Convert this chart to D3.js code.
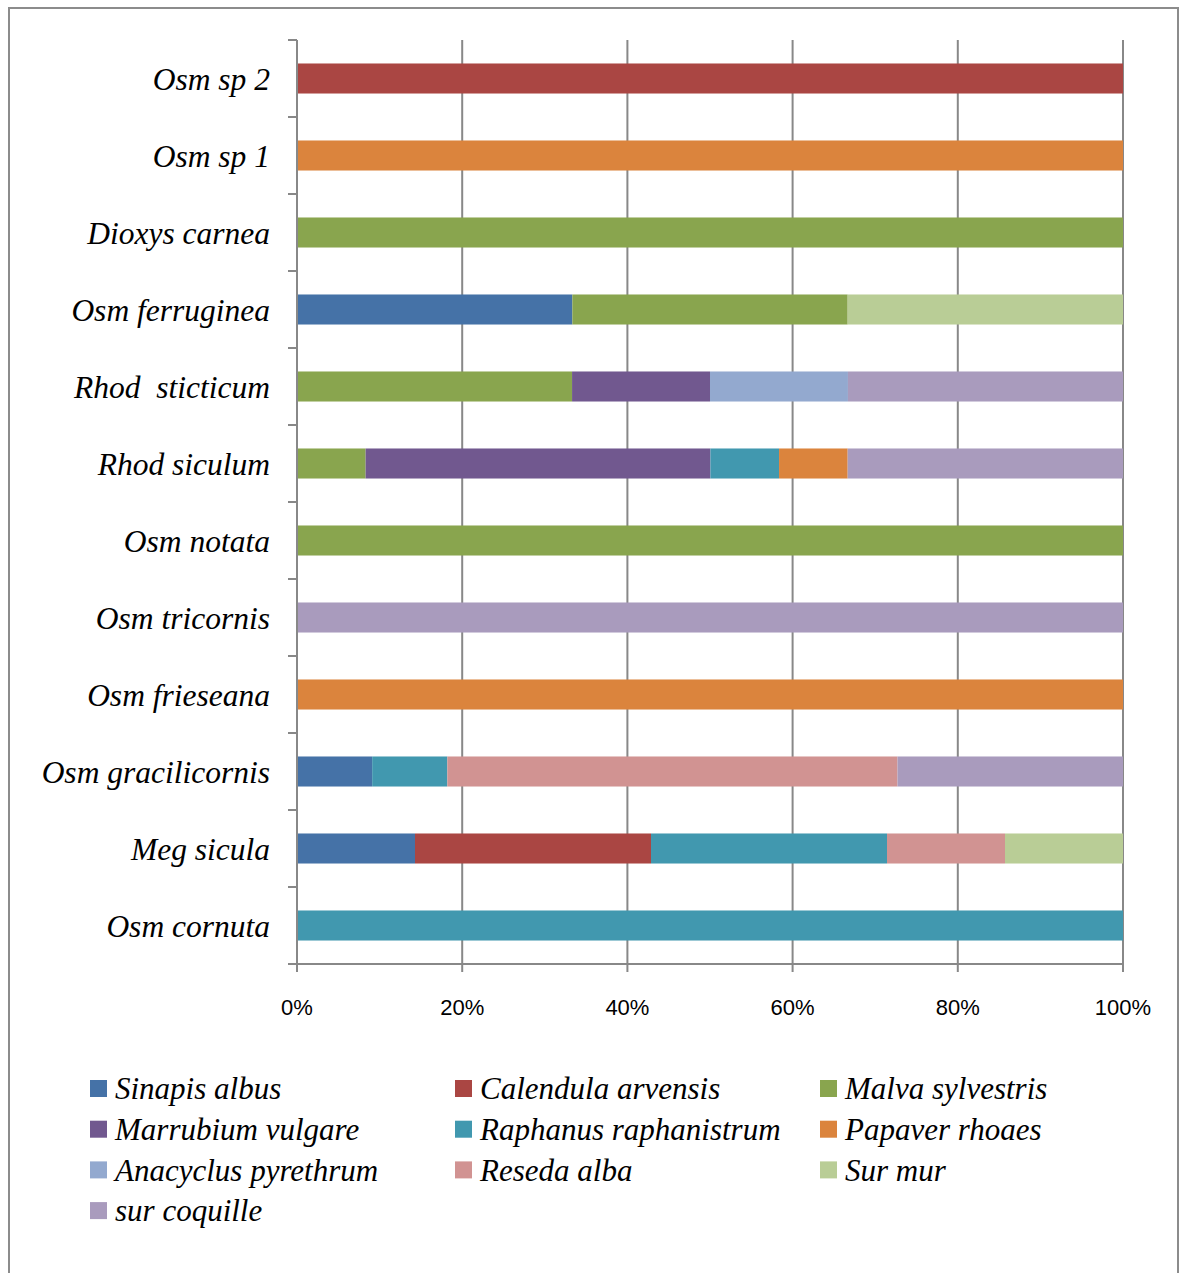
<!DOCTYPE html>
<html><head><meta charset="utf-8">
<script src="https://cdn.jsdelivr.net/npm/d3@7"></script>
<style>body{margin:0;background:#fff}</style>
</head><body>
<svg id="c" width="1184" height="1273"></svg>
<script>
const categories = ["Osm sp 2","Osm sp 1","Dioxys carnea","Osm ferruginea","Rhod  sticticum","Rhod siculum","Osm notata","Osm tricornis","Osm frieseana","Osm gracilicornis","Meg sicula","Osm cornuta"];
const seriesNames = ["Sinapis albus","Calendula arvensis","Malva sylvestris","Marrubium vulgare","Raphanus raphanistrum","Papaver rhoaes","Anacyclus pyrethrum","Reseda alba","Sur mur","sur coquille"];
const seriesColors = ["#4572A7","#AA4643","#89A54E","#71588F","#4198AF","#DB843D","#93A9CF","#D19392","#B9CD96","#A99BBD"];
// percentages per category, in series order
const sinapis    = [0,0,0,33.3,0,0,0,0,0,9.1,14.3,0];
const calendula  = [100,0,0,0,0,0,0,0,0,0,28.6,0];
const malva      = [0,0,100,33.3,33.3,8.3,100,0,0,0,0,0];
const marrubium  = [0,0,0,0,16.7,41.7,0,0,0,0,0,0];
const raphanus   = [0,0,0,0,0,8.3,0,0,0,9.1,28.6,100];
const papaver    = [0,100,0,0,0,8.3,0,0,100,0,0,0];
const anacyclus  = [0,0,0,0,16.7,0,0,0,0,0,0,0];
const reseda     = [0,0,0,0,0,0,0,0,0,54.5,14.3,0];
const surMur     = [0,0,0,33.3,0,0,0,0,0,0,14.3,0];
const surCoquille= [0,0,0,0,33.3,33.3,0,100,0,27.3,0,0];
const xTicks = [0,0.2,0.4,0.6,0.8,1];

const seriesValues = [sinapis,calendula,malva,marrubium,raphanus,papaver,anacyclus,reseda,surMur,surCoquille];
const rows = categories.map((c,i)=>{const r={cat:c}; seriesNames.forEach((s,j)=>r[s]=seriesValues[j][i]); return r;});
const stack = d3.stack().keys(seriesNames).offset(d3.stackOffsetExpand)(rows);

const svg = d3.select("#c");
// frame
svg.append("rect").attr("x",9).attr("y",8).attr("width",1169).attr("height",1280)
  .attr("fill","none").attr("stroke","#8c8c8c").attr("stroke-width",2);

const x = d3.scaleLinear().domain([0,1]).range([297,1123]);
const y = d3.scaleBand().domain(categories).range([40,964]).paddingInner(0.61).paddingOuter(0.305);
const step = y.step();

// gridlines
svg.append("g").selectAll("line").data(xTicks.slice(1)).join("line")
  .attr("x1",d=>x(d)).attr("x2",d=>x(d)).attr("y1",40).attr("y2",964)
  .attr("stroke","#888").attr("stroke-width",2);

// bars
svg.append("g").selectAll("g").data(stack).join("g")
  .attr("fill",(d,i)=>seriesColors[i])
  .selectAll("rect").data(d=>d.filter(e=>e[1]-e[0]>0)).join("rect")
  .attr("x",d=>x(d[0])).attr("width",d=>x(d[1])-x(d[0]))
  .attr("y",d=>y(d.data.cat)).attr("height",y.bandwidth());

// y axis line + ticks at band boundaries
const ya = svg.append("g");
ya.append("line").attr("x1",297).attr("x2",297).attr("y1",40).attr("y2",964).attr("stroke","#888").attr("stroke-width",2);
const bounds = d3.range(categories.length+1).map(i=>40+i*step);
ya.selectAll("line.t").data(bounds).join("line").attr("class","t")
  .attr("x1",288).attr("x2",297).attr("y1",d=>d).attr("y2",d=>d).attr("stroke","#888").attr("stroke-width",2);
ya.selectAll("text").data(categories).join("text")
  .attr("x",270).attr("y",d=>y(d)+y.bandwidth()/2).attr("dy","0.36em")
  .attr("text-anchor","end").attr("font-family","Liberation Serif, serif").attr("font-style","italic")
  .attr("font-size",31.5).attr("fill","#000").style("white-space","pre").text(d=>d);

// x axis
const xa = svg.append("g");
xa.append("line").attr("x1",288).attr("x2",1123).attr("y1",964).attr("y2",964).attr("stroke","#888").attr("stroke-width",2);
xa.selectAll("line.t").data(xTicks).join("line").attr("class","t")
  .attr("x1",d=>x(d)).attr("x2",d=>x(d)).attr("y1",964).attr("y2",972).attr("stroke","#888").attr("stroke-width",2);
xa.selectAll("text").data(xTicks).join("text")
  .attr("x",d=>x(d)).attr("y",1007).attr("dy","0.35em").attr("text-anchor","middle")
  .attr("font-family","Liberation Sans, Arial, sans-serif").attr("font-size",22).attr("fill","#000")
  .text(d3.format(".0%"));

// legend
const lg = svg.append("g");
seriesNames.forEach((s,i)=>{
  const col=i%3,row=Math.floor(i/3);
  const lx=90+col*365, ly=1088+row*40.7;
  lg.append("rect").attr("x",lx).attr("y",ly-8).attr("width",17).attr("height",17).attr("fill",seriesColors[i]);
  lg.append("text").attr("x",lx+25).attr("y",ly).attr("dy","0.36em")
    .attr("font-family","Liberation Serif, serif").attr("font-style","italic").attr("font-size",31)
    .attr("fill","#000").text(s);
});
</script>
</body></html>
